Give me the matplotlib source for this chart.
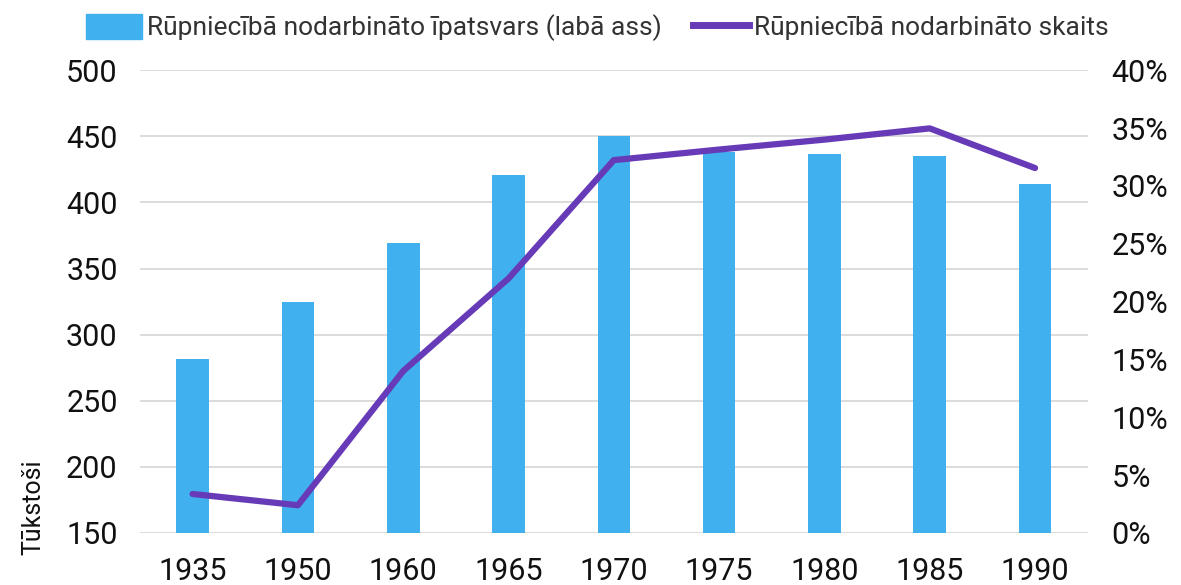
import matplotlib.pyplot as plt
import numpy as np
from matplotlib.ticker import PercentFormatter
from matplotlib.patches import Patch
from matplotlib.lines import Line2D

plt.rcParams['font.family'] = ['Roboto', 'DejaVu Sans']

years = ["1935", "1950", "1960", "1965", "1970", "1975", "1980", "1985", "1990"]
share_pct = [15.0, 20.0, 25.1, 30.9, 34.3, 32.9, 32.8, 32.6, 30.2]
employed_k = [179.5, 171, 272.5, 342.5, 432, 440, 447.5, 456, 426]

bar_color = '#41B0EE'
line_color = '#673AB7'

fig = plt.figure(figsize=(11.81, 5.85), dpi=100)
ax = fig.add_axes([0.1185, 0.0889, 0.8025, 0.7911])
ax2 = ax.twinx()

x = np.arange(len(years))

ax.set_xlim(-0.5, len(years) - 0.5)
ax.set_ylim(150, 500)
left_ticks = np.arange(150, 501, 50)
ax.set_yticks(left_ticks)
ax2.set_ylim(0, 40)
ax2.set_yticks(np.arange(0, 41, 5))
ax2.yaxis.set_major_formatter(PercentFormatter(decimals=0))

# gridlines follow the left axis, drawn behind the bars
ax2.hlines(left_ticks, 0, 1, transform=ax.get_yaxis_transform(),
           color='#d9d9d9', lw=1.3, zorder=0)

# bars on right axis, line on left axis
ax2.bar(x, share_pct, width=0.31, color=bar_color, zorder=2)
ax.plot(x, employed_k, color=line_color, lw=4.5, solid_capstyle='round', zorder=5)

ax.set_zorder(ax2.get_zorder() + 1)
ax.patch.set_visible(False)

ax.set_xticks(x)
ax.set_xticklabels(years)

for a in (ax, ax2):
    for s in a.spines.values():
        s.set_visible(False)
    a.tick_params(length=0, labelsize=22, colors='#111111')
ax.tick_params(axis='x', pad=17)
ax.tick_params(axis='y', pad=16)
ax2.tick_params(axis='y', pad=17)

ax.set_ylabel("Tūkstoši", fontsize=18, color='#111111')
ax.yaxis.set_label_coords(-0.1, 0.055)

handles = [Patch(color=bar_color, label="Rūpniecībā nodarbināto īpatsvars (labā ass)"),
           Line2D([0], [0], color=line_color, lw=5, label="Rūpniecībā nodarbināto skaits")]
fig.legend(handles=handles, loc='upper left', bbox_to_anchor=(0.053, 1.017), ncol=2,
           frameon=False, fontsize=19, handlelength=2.1, handleheight=1.1,
           handletextpad=0.2, columnspacing=1.2, labelcolor='#333333')

fig.savefig('out.png', dpi=100)
